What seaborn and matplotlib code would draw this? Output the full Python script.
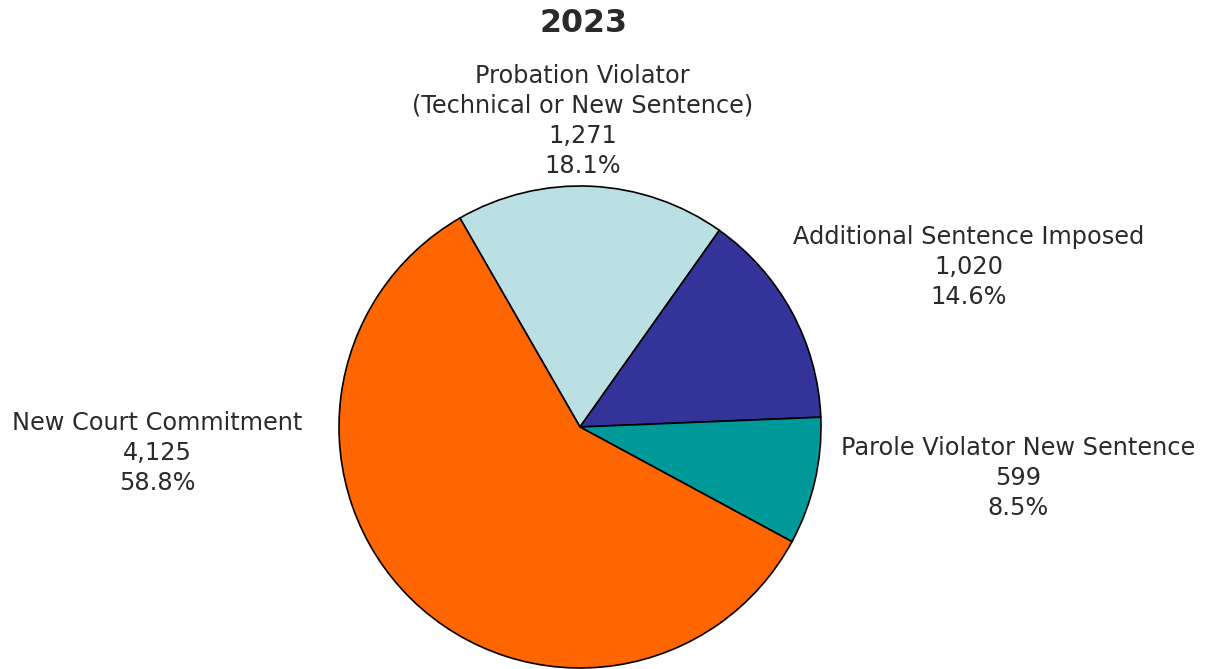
import matplotlib
matplotlib.use("Agg")
import matplotlib.pyplot as plt
import seaborn as sns

# data
categories = ["Probation Violator\n(Technical or New Sentence)", "Additional Sentence Imposed",
              "Parole Violator New Sentence", "New Court Commitment"]
counts = [1271, 1020, 599, 4125]
pct_labels = ["18.1%", "14.6%", "8.5%", "58.8%"]
colors = ["#BBE0E3", "#333399", "#009999", "#FF6600"]
title = "2023"

# label placement (data units, pie radius = 1)
label_pos = [(0.01, 1.27), (1.614, 0.664), (1.817, -0.212), (-1.755, -0.108)]

sns.set_theme(style="white")
plt.rcParams['font.family'] = ['DejaVu Sans']
text_color = "#2a2a2a"

fig = plt.figure(figsize=(12.09, 6.69), dpi=100)
ax = fig.add_axes([0, 0, 1, 1])

ax.pie(counts, colors=colors, startangle=119.9, counterclock=False, radius=1,
       wedgeprops=dict(edgecolor="black", linewidth=1.2))

for cat, n, pct, (x, y) in zip(categories, counts, pct_labels, label_pos):
    ax.text(x, y, f"{cat}\n{n:,}\n{pct}", ha="center", va="center",
            multialignment="center", fontsize=17.3, color=text_color, linespacing=1.32)

# map axes so that center sits at (580, 427) px with radius 241 px
r = 241.0
ax.set_xlim(-580 / r, (1209 - 580) / r)
ax.set_ylim(-(669 - 427) / r, 427 / r)
ax.set_aspect("auto")
ax.axis("off")

fig.text(583 / 1209, 1 - 23 / 669, title, ha="center", va="center",
         fontsize=22.8, fontweight="bold", color=text_color)

fig.savefig("out.png", dpi=100, facecolor="white")
